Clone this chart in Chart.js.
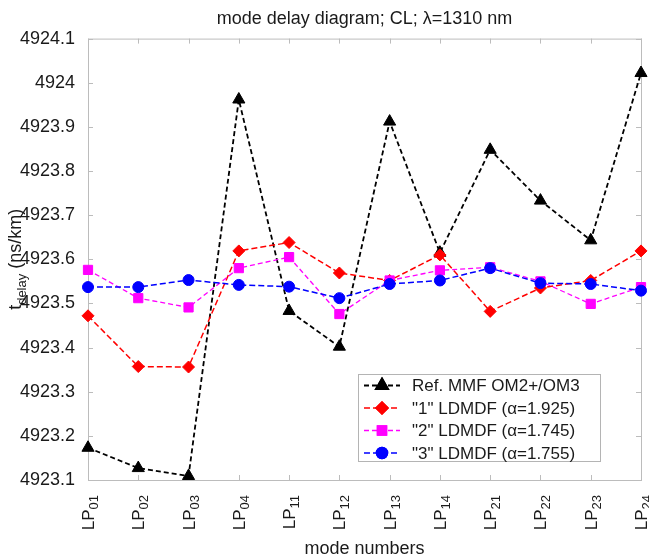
<!DOCTYPE html>
<html lang="en">
<head>
<meta charset="UTF-8">
<title>mode delay diagram</title>
<script src="https://cdn.jsdelivr.net/npm/chart.js"></script>
<style>
    html, body { margin: 0; padding: 0; background: #ffffff; }
    #wrap { width: 649px; height: 558px; position: relative; }
</style>
</head>
<body>
<div id="wrap"><canvas id="delayChart"></canvas></div>
<script>
// mode labels: LP + subscript index
const modes = ['LP01', 'LP02', 'LP03', 'LP04', 'LP11', 'LP12', 'LP13', 'LP14', 'LP21', 'LP22', 'LP23', 'LP24'];

// t_delay values in ns/km
const refMMF = [4923.173, 4923.127, 4923.109, 4923.962, 4923.483, 4923.402, 4923.912, 4923.615, 4923.848, 4923.733, 4923.643, 4924.022];
const ldmdf1 = [4923.472, 4923.357, 4923.356, 4923.619, 4923.638, 4923.569, 4923.552, 4923.610, 4923.482, 4923.535, 4923.552, 4923.619];
const ldmdf2 = [4923.576, 4923.512, 4923.491, 4923.580, 4923.605, 4923.476, 4923.552, 4923.575, 4923.582, 4923.550, 4923.499, 4923.537];
const ldmdf3 = [4923.537, 4923.537, 4923.553, 4923.542, 4923.538, 4923.512, 4923.544, 4923.552, 4923.580, 4923.546, 4923.544, 4923.529];

const yTicks = [4923.1, 4923.2, 4923.3, 4923.4, 4923.5, 4923.6, 4923.7, 4923.8, 4923.9, 4924.0, 4924.1];
const seriesNames = ['Ref. MMF OM2+/OM3', '"1" LDMDF (α=1.925)', '"2" LDMDF (α=1.745)', '"3" LDMDF (α=1.755)'];

const FONT = "'Liberation Sans', Arial, sans-serif";
const TEXT = '#1a1a1a';

// box around the plot with inward tick marks (matlab look)
const framePlugin = {
    id: 'frame',
    beforeDatasetsDraw(chart) {
        const { ctx, chartArea: a, scales: { x, y } } = chart;
        ctx.save();
        ctx.strokeStyle = '#bcbcbc';
        ctx.lineWidth = 1;
        ctx.strokeRect(a.left + 0.5, a.top + 0.5, a.right - a.left, a.bottom - a.top);
        ctx.beginPath();
        x.ticks.forEach((t, i) => {
            const px = Math.round(x.getPixelForTick(i)) + 0.5;
            ctx.moveTo(px, a.bottom); ctx.lineTo(px, a.bottom - 5);
            ctx.moveTo(px, a.top); ctx.lineTo(px, a.top + 5);
        });
        y.ticks.forEach(t => {
            const py = Math.round(y.getPixelForValue(t.value)) + 0.5;
            ctx.moveTo(a.left, py); ctx.lineTo(a.left + 5, py);
            ctx.moveTo(a.right, py); ctx.lineTo(a.right - 5, py);
        });
        ctx.stroke();
        ctx.restore();
    },
    afterDraw(chart) {
        const { ctx, chartArea: a, scales: { x } } = chart;

        // x tick labels, rotated, LP with subscript
        ctx.save();
        ctx.fillStyle = TEXT;
        ctx.textBaseline = 'alphabetic';
        ctx.textAlign = 'right';
        x.ticks.forEach((t, i) => {
            const lbl = chart.data.labels[i];
            const px = x.getPixelForTick(i);
            ctx.save();
            ctx.translate(px, a.bottom + 15);
            ctx.rotate(-Math.PI / 2);
            ctx.font = '13px ' + FONT;
            const wSub = ctx.measureText(lbl.slice(2)).width;
            ctx.fillText(lbl.slice(2), 0, 10);
            ctx.font = '17px ' + FONT;
            ctx.fillText(lbl.slice(0, 2), -wSub, 6);
            ctx.restore();
        });
        ctx.restore();

        // y axis title: t_delay (ns/km)
        ctx.save();
        ctx.translate(21, (a.top + a.bottom) / 2);
        ctx.rotate(-Math.PI / 2);
        ctx.fillStyle = TEXT;
        ctx.textBaseline = 'alphabetic';
        ctx.font = '18px ' + FONT;
        const wT = ctx.measureText('t').width;
        const wRest = ctx.measureText(' (ns/km)').width;
        ctx.font = '13px ' + FONT;
        const wSub = ctx.measureText('delay').width;
        let x0 = -(wT + wSub + wRest) / 2;
        ctx.font = '18px ' + FONT;
        ctx.fillText('t', x0, 0);
        ctx.font = '13px ' + FONT;
        ctx.fillText('delay', x0 + wT, 5);
        ctx.font = '18px ' + FONT;
        ctx.fillText(' (ns/km)', x0 + wT + wSub, 0);
        ctx.restore();

        // legend box
        const lx = 358, ly = 374, lw = 242, lh = 87;
        ctx.save();
        ctx.fillStyle = '#ffffff';
        ctx.fillRect(lx, ly, lw, lh);
        ctx.strokeStyle = '#b4b4b4';
        ctx.lineWidth = 1;
        ctx.strokeRect(lx + 0.5, ly + 0.5, lw, lh);
        chart.data.datasets.forEach((ds, i) => {
            const ry = ly + 11.5 + i * 22.5;
            ctx.strokeStyle = ds.borderColor;
            ctx.lineWidth = ds.borderWidth;
            ctx.setLineDash(ds.borderDash);
            ctx.beginPath();
            ctx.moveTo(lx + 6, ry); ctx.lineTo(lx + 42, ry);
            ctx.stroke();
            ctx.setLineDash([]);
            Chart.helpers.drawPoint(ctx, {
                pointStyle: ds.pointStyle, radius: ds.pointRadius, rotation: 0, borderWidth: 1
            }, lx + 24, ry);
            ctx.fillStyle = ds.backgroundColor;
            ctx.strokeStyle = ds.borderColor;
            ctx.fill();
            ctx.stroke();
            ctx.fillStyle = TEXT;
            ctx.font = '17px ' + FONT;
            ctx.textBaseline = 'middle';
            ctx.fillText(seriesNames[i], lx + 54, ry + 1);
        });
        ctx.restore();
    }
};

function series(data, color, style, radius, width, dash, order) {
    return {
        data: data,
        borderColor: color,
        backgroundColor: color,
        borderWidth: width,
        borderDash: dash,
        pointStyle: style,
        pointRadius: radius,
        pointHoverRadius: radius,
        pointBorderWidth: 1,
        pointBackgroundColor: color,
        pointBorderColor: color,
        tension: 0,
        clip: false,
        order: order
    };
}

new Chart(document.getElementById('delayChart'), {
    type: 'line',
    data: {
        labels: modes,
        datasets: [
            series(refMMF, '#000000', 'triangle', 7, 1.8, [5, 3], 4),
            series(ldmdf1, '#ff0000', 'rectRot', 6, 1.5, [6, 3], 3),
            series(ldmdf2, '#ff00ff', 'rect', 6.5, 1.3, [5, 3], 2),
            series(ldmdf3, '#0000ff', 'circle', 5.5, 1.5, [6, 3], 1)
        ]
    },
    plugins: [framePlugin],
    options: {
        responsive: true,
        maintainAspectRatio: false,
        animation: false,
        layout: { padding: { left: 0, right: 3, top: 0, bottom: 0 } },
        plugins: {
            legend: { display: false },
            tooltip: { enabled: false },
            title: {
                display: true,
                fullSize: false,
                text: 'mode delay diagram; CL; λ=1310 nm',
                color: TEXT,
                font: { family: FONT, size: 18, weight: 'normal' },
                padding: { top: 8, bottom: 9 }
            }
        },
        scales: {
            x: {
                offset: false,
                grid: { display: false },
                border: { display: false },
                ticks: {
                    autoSkip: false,
                    minRotation: 90,
                    maxRotation: 90,
                    padding: 10,
                    color: 'rgba(0,0,0,0)',
                    font: { family: FONT, size: 17 }
                },
                title: {
                    display: true,
                    text: 'mode numbers',
                    color: TEXT,
                    font: { family: FONT, size: 18, lineHeight: 1 },
                    padding: { top: 0, bottom: 0 }
                },
                afterFit(scale) {
                    scale.height = 78;
                    scale.paddingLeft = 0;
                    scale.paddingRight = 0;
                }
            },
            y: {
                min: 4923.1,
                max: 4924.1,
                grid: { display: false },
                border: { display: false },
                afterBuildTicks(scale) {
                    scale.ticks = yTicks.map(v => ({ value: v }));
                },
                ticks: {
                    padding: 5,
                    color: TEXT,
                    font: { family: FONT, size: 18 },
                    callback: v => String(Math.round(v * 10) / 10)
                },
                afterFit(scale) {
                    scale.width = 88;
                }
            }
        }
    }
});
</script>
</body>
</html>
